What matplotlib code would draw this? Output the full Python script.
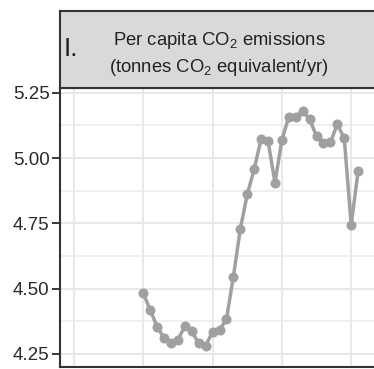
import matplotlib
matplotlib.use("Agg")
import matplotlib.pyplot as plt
import numpy as np

years = list(range(1990, 2022))
emissions = [4.482, 4.418, 4.354, 4.310, 4.291, 4.304, 4.357, 4.336, 4.291, 4.282,
             4.335, 4.342, 4.383, 4.546, 4.728, 4.861, 4.957, 5.073, 5.065, 4.906,
             5.069, 5.158, 5.158, 5.180, 5.148, 5.084, 5.056, 5.060, 5.129, 5.075,
             4.744, 4.951]
y_ticks = [4.25, 4.50, 4.75, 5.00, 5.25]
y_tick_labels = ["4.25", "4.50", "4.75", "5.00", "5.25"]
x_major = [1980, 1990, 2000, 2010, 2020]
y_minor = [4.375, 4.625, 4.875, 5.125]
panel_label = "I."
strip_title = "Per capita CO$_\\mathregular{2}$ emissions\n(tonnes CO$_\\mathregular{2}$ equivalent/yr)"

plt.rcParams['font.family'] = ['Liberation Sans', 'DejaVu Sans']
plt.rcParams['mathtext.fontset'] = 'custom'
plt.rcParams['mathtext.rm'] = 'Liberation Sans'

W, H = 374, 369
fig = plt.figure(figsize=(W / 100, H / 100), dpi=100)

def fx(px):
    return px / W

def fy(py):
    return 1 - py / H

left, right, top, bottom = 60, 376, 88, 367
ax = fig.add_axes([fx(left), fy(bottom), fx(right - left), fy(top) - fy(bottom)])
ax.set_xlim(1977.98, 2023.58)
ax.set_ylim(4.200, 5.268)
ax.set_facecolor('white')

for xv in x_major:
    ax.axvline(xv, color='#E8E8E8', lw=1.4, zorder=0)
for yv in y_ticks:
    ax.axhline(yv, color='#E8E8E8', lw=1.4, zorder=0)
for yv in y_minor:
    ax.axhline(yv, color='#EBEBEB', lw=1.1, zorder=0)

ax.plot(years, emissions, color='#A0A0A0', lw=2.5, marker='o', markersize=6.2,
        markerfacecolor='#A0A0A0', markeredgecolor='#A0A0A0', zorder=3)

ax.set_yticks(y_ticks)
ax.set_yticklabels(y_tick_labels)
ax.set_xticks([])
ax.tick_params(axis='y', direction='out', length=5.5, width=1.3, color='#2A2A2A',
               labelsize=13.5, labelcolor='#2A2A2A', pad=2)
for s in ax.spines.values():
    s.set_color('#333333')
    s.set_linewidth(1.5)

# strip
sax = fig.add_axes([fx(left), fy(88), fx(right - left), fy(11) - fy(88)])
sax.set_facecolor('#D9D9D9')
sax.set_xticks([])
sax.set_yticks([])
for s in sax.spines.values():
    s.set_color('#333333')
    s.set_linewidth(1.5)

fig.text(fx(64), fy(49.5), panel_label, fontsize=19, color='#222222', ha='left', va='center')
fig.text(fx(219), fy(54), strip_title, fontsize=13.3, color='#222222', ha='center',
         va='center', linespacing=1.4)

fig.savefig('out.png', dpi=100)
